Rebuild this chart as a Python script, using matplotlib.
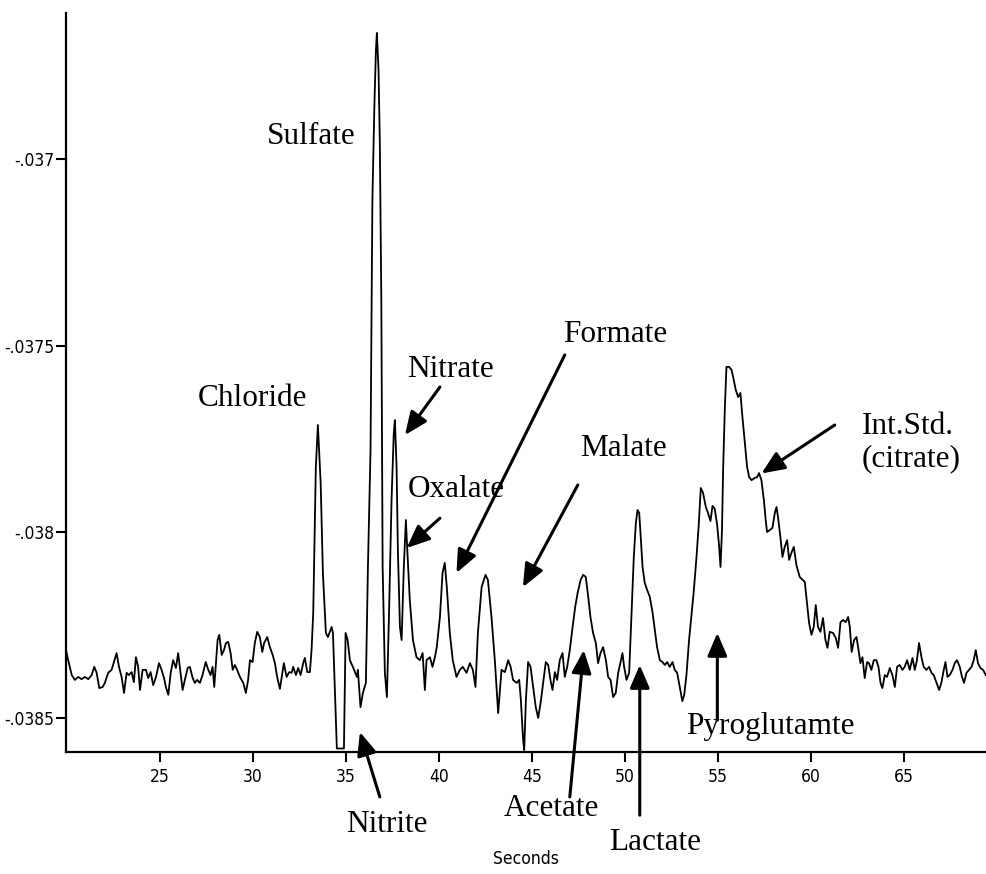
import matplotlib
matplotlib.use("Agg")
import matplotlib.pyplot as plt
from matplotlib import font_manager

# Electropherogram trace (time in s, detector signal)
times = [
    19.95, 20.07, 20.26, 20.43, 20.61, 20.79, 20.97, 21.15, 21.33, 21.47,
    21.60, 21.74, 21.92, 22.04, 22.22, 22.40, 22.53, 22.67, 22.80, 22.94,
    23.07, 23.21, 23.33, 23.48, 23.60, 23.71, 23.83, 23.93, 24.07, 24.25,
    24.37, 24.50, 24.64, 24.79, 24.95, 25.09, 25.22, 25.32, 25.45, 25.58,
    25.71, 25.86, 25.98, 26.11, 26.22, 26.34, 26.49, 26.61, 26.76, 26.88,
    27.00, 27.15, 27.29, 27.46, 27.60, 27.72, 27.83, 27.92, 28.01, 28.10,
    28.19, 28.32, 28.44, 28.55, 28.67, 28.80, 28.91, 29.03, 29.15, 29.30,
    29.48, 29.62, 29.74, 29.84, 29.98, 30.10, 30.23, 30.37, 30.50, 30.60,
    30.77, 30.91, 31.06, 31.18, 31.30, 31.45, 31.54, 31.66, 31.81, 31.95,
    32.08, 32.16, 32.31, 32.43, 32.56, 32.70, 32.79, 32.92, 33.06, 33.15,
    33.24, 33.38, 33.49, 33.64, 33.76, 33.92, 34.03, 34.23, 34.30, 34.46,
    34.51, 34.89, 34.98, 35.09, 35.21, 35.37, 35.59, 35.64, 35.78, 35.91,
    36.07, 36.18, 36.32, 36.42, 36.53, 36.61, 36.66, 36.75, 36.82, 36.90,
    36.97, 37.09, 37.20, 37.31, 37.45, 37.57, 37.63, 37.72, 37.79, 37.90,
    37.99, 38.11, 38.22, 38.27, 38.43, 38.60, 38.79, 38.97, 39.12, 39.24,
    39.33, 39.51, 39.65, 39.78, 39.88, 40.05, 40.19, 40.31, 40.42, 40.58,
    40.74, 40.94, 41.12, 41.28, 41.48, 41.66, 41.82, 41.96, 42.09, 42.29,
    42.50, 42.63, 42.82, 43.00, 43.18, 43.36, 43.54, 43.72, 43.85, 43.98,
    44.17, 44.31, 44.40, 44.52, 44.58, 44.67, 44.79, 44.92, 45.06, 45.20,
    45.33, 45.46, 45.60, 45.74, 45.87, 45.99, 46.10, 46.23, 46.35, 46.49,
    46.64, 46.76, 46.89, 47.03, 47.18, 47.32, 47.45, 47.61, 47.75, 47.89,
    48.02, 48.14, 48.28, 48.43, 48.55, 48.68, 48.82, 48.97, 49.09, 49.22,
    49.36, 49.50, 49.63, 49.76, 49.86, 49.95, 50.08, 50.22, 50.35, 50.47,
    50.58, 50.67, 50.76, 50.83, 50.94, 51.06, 51.19, 51.33, 51.48, 51.60,
    51.72, 51.87, 52.01, 52.14, 52.26, 52.40, 52.55, 52.67, 52.80, 52.94,
    53.08, 53.18, 53.30, 53.44, 53.57, 53.69, 53.84, 53.96, 54.07, 54.19,
    54.34, 54.46, 54.59, 54.70, 54.82, 54.95, 55.05, 55.13, 55.21, 55.27,
    55.36, 55.45, 55.59, 55.72, 55.81, 55.95, 56.08, 56.20, 56.31, 56.44,
    56.56, 56.67, 56.80, 56.97, 57.10, 57.20, 57.33, 57.46, 57.56, 57.63,
    57.78, 57.92, 58.05, 58.14, 58.22, 58.35, 58.46, 58.58, 58.71, 58.82,
    58.94, 59.07, 59.21, 59.39, 59.66, 59.78, 59.89, 60.02, 60.14, 60.25,
    60.37, 60.50, 60.64, 60.77, 60.88, 61.00, 61.18, 61.33, 61.45, 61.58,
    61.72, 61.86, 61.99, 62.08, 62.18, 62.31, 62.44, 62.55, 62.65, 62.76,
    62.88, 63.01, 63.11, 63.24, 63.37, 63.51, 63.62, 63.73, 63.83, 63.96,
    64.08, 64.23, 64.37, 64.50, 64.62, 64.76, 64.91, 65.03, 65.16, 65.30,
    65.45, 65.57, 65.69, 65.80, 65.93, 66.05, 66.20, 66.34, 66.47, 66.59,
    66.74, 66.88, 67.00, 67.13, 67.22, 67.33, 67.45, 67.60, 67.72, 67.84,
    67.99, 68.11, 68.22, 68.35, 68.49, 68.62, 68.74, 68.85, 68.97, 69.10,
    69.24, 69.39,
]

signal = [
    -0.038317, -0.038344, -0.038384, -0.038397, -0.038389, -0.038395, -0.038389, -0.038395, -0.038384, -0.038362,
    -0.038378, -0.038419, -0.038416, -0.038405, -0.038378, -0.038370, -0.038349, -0.038325, -0.038362, -0.038389,
    -0.038432, -0.038378, -0.038384, -0.038376, -0.038403, -0.038336, -0.038362, -0.038424, -0.038370, -0.038370,
    -0.038392, -0.038376, -0.038411, -0.038389, -0.038352, -0.038370, -0.038392, -0.038416, -0.038437, -0.038378,
    -0.038344, -0.038365, -0.038325, -0.038378, -0.038424, -0.038397, -0.038365, -0.038362, -0.038392, -0.038405,
    -0.038397, -0.038405, -0.038384, -0.038349, -0.038370, -0.038384, -0.038362, -0.038416, -0.038352, -0.038290,
    -0.038276, -0.038330, -0.038317, -0.038298, -0.038295, -0.038325, -0.038370, -0.038357, -0.038370, -0.038389,
    -0.038405, -0.038432, -0.038397, -0.038344, -0.038349, -0.038298, -0.038268, -0.038282, -0.038322, -0.038298,
    -0.038282, -0.038309, -0.038330, -0.038352, -0.038389, -0.038421, -0.038392, -0.038352, -0.038389, -0.038376,
    -0.038378, -0.038362, -0.038384, -0.038365, -0.038384, -0.038352, -0.038338, -0.038376, -0.038376, -0.038317,
    -0.038217, -0.037826, -0.037713, -0.037869, -0.038110, -0.038271, -0.038282, -0.038255, -0.038271, -0.038505,
    -0.038581, -0.038581, -0.038271, -0.038290, -0.038344, -0.038362, -0.038389, -0.038370, -0.038470, -0.038432,
    -0.038405, -0.038094, -0.037780, -0.037109, -0.036849, -0.036707, -0.036661, -0.036760, -0.036956, -0.037378,
    -0.038094, -0.038378, -0.038443, -0.038228, -0.037914, -0.037734, -0.037700, -0.037826, -0.038048, -0.038255,
    -0.038290, -0.038094, -0.037968, -0.038022, -0.038183, -0.038290, -0.038336, -0.038344, -0.038325, -0.038424,
    -0.038344, -0.038336, -0.038362, -0.038336, -0.038309, -0.038228, -0.038110, -0.038083, -0.038148, -0.038271,
    -0.038344, -0.038389, -0.038370, -0.038362, -0.038378, -0.038352, -0.038370, -0.038416, -0.038271, -0.038148,
    -0.038115, -0.038129, -0.038228, -0.038344, -0.038486, -0.038370, -0.038376, -0.038344, -0.038362, -0.038397,
    -0.038405, -0.038397, -0.038451, -0.038558, -0.038585, -0.038451, -0.038349, -0.038362, -0.038416, -0.038470,
    -0.038499, -0.038459, -0.038405, -0.038349, -0.038357, -0.038397, -0.038424, -0.038376, -0.038397, -0.038344,
    -0.038325, -0.038389, -0.038362, -0.038317, -0.038255, -0.038201, -0.038164, -0.038129, -0.038115, -0.038121,
    -0.038174, -0.038228, -0.038271, -0.038298, -0.038352, -0.038325, -0.038309, -0.038344, -0.038389, -0.038397,
    -0.038443, -0.038432, -0.038378, -0.038349, -0.038325, -0.038362, -0.038397, -0.038378, -0.038217, -0.038067,
    -0.037976, -0.037941, -0.037949, -0.038003, -0.038094, -0.038137, -0.038156, -0.038174, -0.038217, -0.038263,
    -0.038309, -0.038344, -0.038349, -0.038357, -0.038349, -0.038362, -0.038349, -0.038370, -0.038378, -0.038416,
    -0.038454, -0.038437, -0.038384, -0.038290, -0.038223, -0.038161, -0.038067, -0.037981, -0.037882, -0.037895,
    -0.037933, -0.037949, -0.037971, -0.037930, -0.037938, -0.037981, -0.038035, -0.038094, -0.037995, -0.037834,
    -0.037673, -0.037557, -0.037557, -0.037565, -0.037584, -0.037619, -0.037638, -0.037627, -0.037692, -0.037761,
    -0.037826, -0.037853, -0.037861, -0.037855, -0.037853, -0.037842, -0.037861, -0.037914, -0.037968, -0.038000,
    -0.037995, -0.037989, -0.037949, -0.037933, -0.037960, -0.038014, -0.038067, -0.038040, -0.038022, -0.038075,
    -0.038056, -0.038040, -0.038089, -0.038121, -0.038134, -0.038191, -0.038244, -0.038276, -0.038255, -0.038196,
    -0.038255, -0.038268, -0.038231, -0.038290, -0.038311, -0.038268, -0.038271, -0.038285, -0.038311, -0.038242,
    -0.038236, -0.038242, -0.038228, -0.038255, -0.038322, -0.038290, -0.038282, -0.038317, -0.038352, -0.038336,
    -0.038392, -0.038349, -0.038352, -0.038370, -0.038344, -0.038344, -0.038362, -0.038405, -0.038419, -0.038384,
    -0.038389, -0.038365, -0.038384, -0.038416, -0.038362, -0.038357, -0.038370, -0.038362, -0.038344, -0.038370,
    -0.038338, -0.038370, -0.038344, -0.038298, -0.038336, -0.038362, -0.038370, -0.038362, -0.038378, -0.038384,
    -0.038405, -0.038424, -0.038405, -0.038370, -0.038349, -0.038389, -0.038384, -0.038370, -0.038352, -0.038344,
    -0.038362, -0.038389, -0.038405, -0.038378, -0.038370, -0.038362, -0.038344, -0.038317, -0.038352, -0.038365,
    -0.038370, -0.038384,
]

x_ticks = [25, 30, 35, 40, 45, 50, 55, 60, 65]
y_ticks = [-0.037, -0.0375, -0.038, -0.0385]
y_tick_labels = ["-.037", "-.0375", "-.038", "-.0385"]

# peak labels: (text, text position, arrow tail, arrow tip); None = no arrow
labels = [
    ("Sulfate", (33.11, -0.036940), None, None),
    ("Chloride", (29.97, -0.037643), None, None),
    ("Nitrate", (40.64, -0.037563), (40.05, -0.037611), (38.17, -0.037740)),
    ("Oxalate", (40.91, -0.037885), (40.05, -0.037963), (38.26, -0.038043)),
    ("Formate", (49.48, -0.037469), (46.76, -0.037525), (40.94, -0.038110)),
    ("Malate", (49.93, -0.037777), (47.46, -0.037874), (44.51, -0.038148)),
    ("Pyroglutamte", (57.83, -0.038523), (54.96, -0.038505), (54.96, -0.038271)),
    ("Nitrite", (37.20, -0.038784), (36.82, -0.038711), (35.75, -0.038537)),
    ("Acetate", (46.06, -0.038741), (47.03, -0.038711), (47.78, -0.038317)),
    ("Lactate", (51.60, -0.038832), (50.79, -0.038760), (50.79, -0.038357)),
]
istd_text = "Int.Std.\n(citrate)"
istd_pos = (62.72, -0.037759)
istd_tail = (61.27, -0.037713)
istd_tip = (57.33, -0.037843)

x_range = (19.95, 69.40)
y_range = (-0.0385897, -0.0366082)

# the axis numbers in the reference are a narrow sans; use a condensed face if one exists
tick_prop = font_manager.FontProperties(family="DejaVu Sans", size=11)
for f in font_manager.fontManager.ttflist:
    fn = f.fname.lower()
    if ("narrow" in fn or "condensed" in fn) and "bold" not in fn and "oblique" not in fn \
            and "italic" not in fn and "light" not in fn:
        tick_prop = font_manager.FontProperties(fname=f.fname, size=12.5)
        break
label_font = "Liberation Serif"

fig = plt.figure(figsize=(9.86, 8.74), dpi=100)
ax = fig.add_axes([0.0669, 0.1399, 0.9331, 0.8449])

ax.plot(times, signal, color="black", lw=1.3)
ax.set_xlim(*x_range)
ax.set_ylim(*y_range)

for side in ("top", "right"):
    ax.spines[side].set_visible(False)
for side in ("left", "bottom"):
    ax.spines[side].set_linewidth(1.6)

ax.set_xticks(x_ticks)
ax.set_xticklabels([str(v) for v in x_ticks])
ax.set_yticks(y_ticks)
ax.set_yticklabels(y_tick_labels)
ax.tick_params(axis="y", length=7.5, width=1.5, pad=1)
ax.tick_params(axis="x", length=7, width=1.5, pad=5)
for lab in ax.get_xticklabels() + ax.get_yticklabels():
    lab.set_fontproperties(tick_prop)

ax.set_xlabel("Seconds", fontproperties=tick_prop)
ax.xaxis.set_label_coords(0.5, -0.133)

arrow = dict(arrowstyle="-|>,head_length=0.7,head_width=0.3", mutation_scale=20,
             color="black", lw=2.2, shrinkA=0, shrinkB=0)

for text, pos, tail, tip in labels:
    ax.text(pos[0], pos[1], text, ha="center", va="center", fontsize=22.5,
            fontfamily=label_font, clip_on=False)
    if tail is not None:
        ax.annotate("", xy=tip, xytext=tail, arrowprops=arrow, annotation_clip=False)

ax.text(istd_pos[0], istd_pos[1], istd_text, ha="left", va="center", fontsize=22.5,
        fontfamily=label_font, linespacing=1.15, clip_on=False)
ax.annotate("", xy=istd_tip, xytext=istd_tail, arrowprops=arrow, annotation_clip=False)

fig.savefig("out.png", dpi=100)
